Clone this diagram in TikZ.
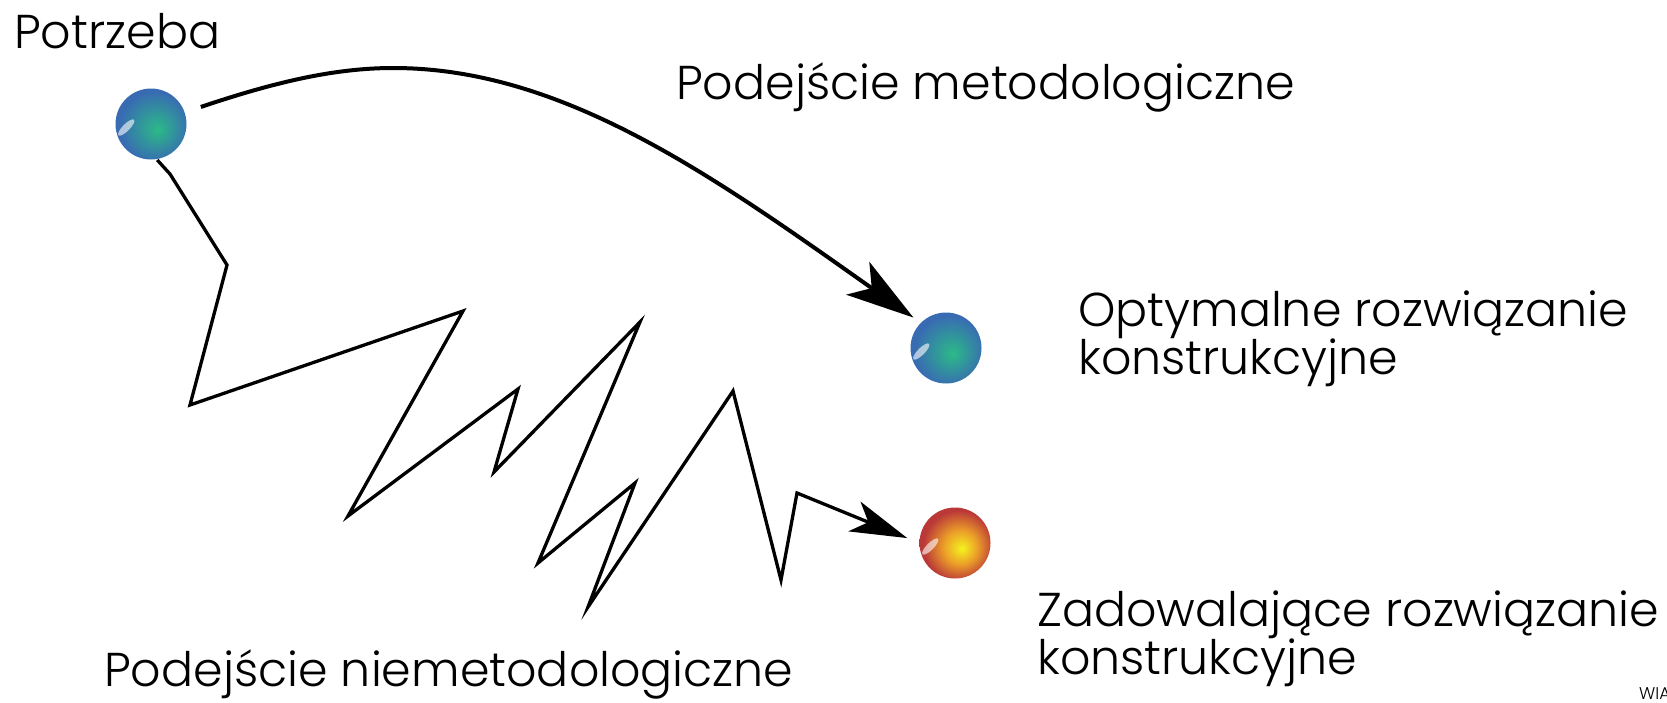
\documentclass[tikz,border=0pt]{standalone}
\usepackage{fontspec}
\setmainfont{Poppins}[UprightFont={* Light}]
\usetikzlibrary{arrows.meta}
\pgfdeclareradialshading{blueball}{\pgfpoint{5bp}{-4bp}}{rgb(0bp)=(0.17,0.73,0.53); rgb(25bp)=(0.22,0.42,0.70); rgb(50bp)=(0.22,0.42,0.70)}
\pgfdeclareradialshading{orangeball}{\pgfpoint{5bp}{-4bp}}{rgb(0bp)=(0.96,0.95,0.12); rgb(12bp)=(0.92,0.62,0.16); rgb(25bp)=(0.73,0.22,0.22); rgb(50bp)=(0.73,0.22,0.22)}
\tikzset{
  ball/.style={circle, minimum size=71pt, inner sep=0pt, shade, shading=#1},
  shine/.style={white, opacity=0.6},
  lbl/.style={anchor=base west, inner sep=0pt, align=left, font=\fontsize{47.5}{48}\selectfont},
  methodic/.style={line width=4pt, -{Stealth[length=68pt,width=40pt,inset=17pt]}},
  zigzag/.style={line width=3.3pt, line join=miter, -{Stealth[length=57pt,width=32pt,inset=15pt]}},
}
\begin{document}
\begin{tikzpicture}[x=1pt,y=-1pt]
\useasboundingbox (0,0) rectangle (1667,702);
% balls
\node[ball=blueball] (need) at (151,124) {};
\node[ball=blueball] (opt) at (946,348) {};
\node[ball=orangeball] (sat) at (955,543) {};
\foreach \b in {need,opt,sat}{
  \fill[shine, shift={(\b.center)}, rotate=45] (-20,-15) ellipse (11 and 3.5);
}
% labels
\node[lbl] (tneed) at (14,48) {Potrzeba};
\node[lbl] (tmet) at (676,99) {Podejście metodologiczne};
\node[lbl] (topt) at (1078,374) {Optymalne rozwiązanie\\konstrukcyjne};
\node[lbl] (tsat) at (1037,674) {Zadowalające rozwiązanie\\konstrukcyjne};
\node[lbl] (tnon) at (104,686) {Podejście niemetodologiczne};
\node[anchor=base west, inner sep=0pt, font=\fontsize{17}{20}\selectfont] (tw) at (1639,699) {WIA};
% methodological path
\coordinate (crest) at (393,68);
\draw[methodic, shorten <=17pt, shorten >=9pt] (need.19) .. controls (272,83) and (333,68) .. (crest)
  .. controls (563,68) and (713,176) .. (opt.north west);
% non-methodological path
\draw[zigzag, shorten <=1pt, shorten >=13pt] (need.-81) -- (170,174) -- (227,265) -- (190,405) -- (463,311) -- (348,516) -- (518,389) -- (494,472) -- (640,322) -- (538,563) -- (635,483) -- (588,607) -- (733,391) -- (781,580) -- (797,493) -- (sat.west);
\end{tikzpicture}
\end{document}
